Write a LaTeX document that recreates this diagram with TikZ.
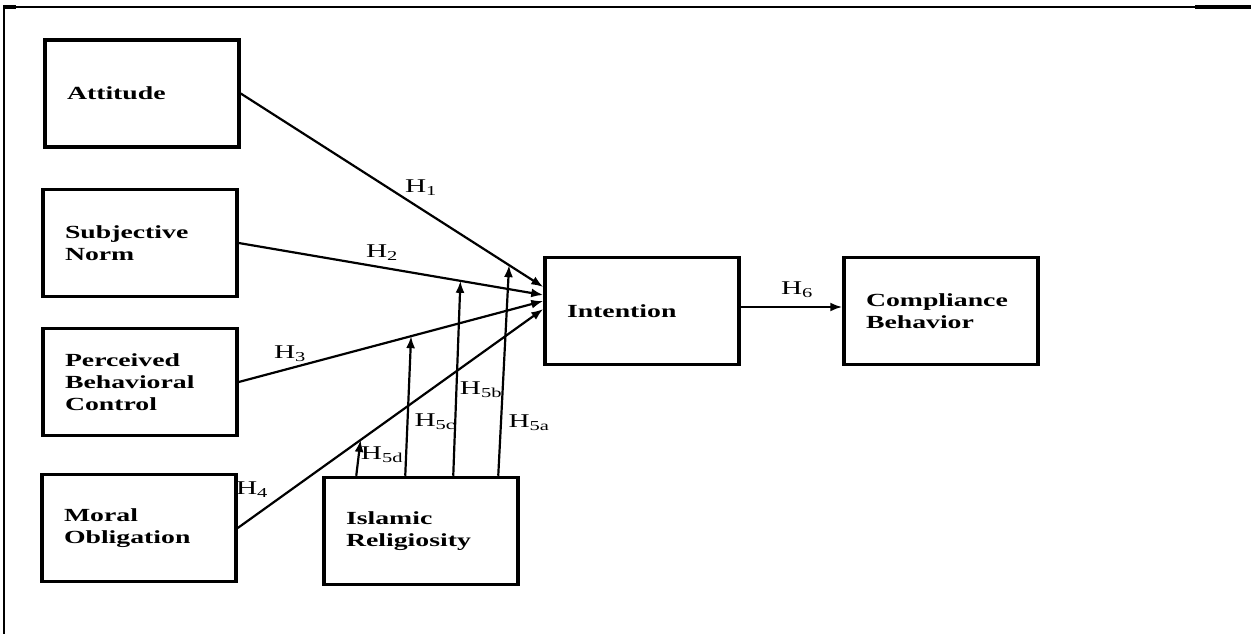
\documentclass[tikz,border=0pt]{standalone}
\usepackage{fontspec}
\setmainfont{Liberation Serif}[FakeStretch=1.5]
\usetikzlibrary{arrows.meta,calc}

\tikzset{
  construct/.style={draw,line width=3.5pt,minimum height=107pt,text width=150pt,
    inner xsep=22pt,align=left,font=\bfseries\fontsize{18.5}{22}\selectfont},
  hyp/.style={-{Latex[length=12pt,width=9pt]},line width=2.2pt},
  hlabel/.style={inner sep=0pt,font=\fontsize{19.5}{20}\selectfont}
}

\begin{document}
\begin{tikzpicture}[x=1pt,y=-1pt]
\useasboundingbox (0,0) rectangle (1251,634);
% page frame
\draw[line width=2pt] (4,634) -- (4,7) -- (1251,7);
\draw[line width=4pt] (3,7) -- (16,7);
\draw[line width=4pt] (1195,7) -- (1251,7);

\node[construct] (att) at (142,93.5) {Attitude};
\node[construct] (sn) at (140,243) {Subjective\\Norm};
\node[construct] (pbc) at (140,382) {Perceived\\Behavioral\\Control};
\node[construct] (mo) at (139,528) {Moral\\Obligation};
\node[construct] (rel) at (421,531) {Islamic\\Religiosity};
\node[construct] (int) at (642,311) {Intention};
\node[construct] (cb) at (941,311) {Compliance\\Behavior};

% end points on the Intention box
\coordinate (t1) at ($(int.west)+(0,-24)$);
\coordinate (t2) at ($(int.west)+(0,-16)$);
\coordinate (t3) at ($(int.west)+(0,-10)$);
\coordinate (t4) at ($(int.west)+(0,-2)$);
\draw[hyp] (att.east) -- (t1);
\draw[hyp] (sn.east) -- (t2);
\draw[hyp] (pbc.east) -- (t3);
\draw[hyp] (mo.east) -- (t4);

% moderating paths
\coordinate (m1) at ($(att.east)!0.887!(t1)$);
\coordinate (m2) at ($(sn.east)!0.728!(t2)$);
\coordinate (m3) at ($(pbc.east)!0.566!(t3)$);
\coordinate (m4) at ($(mo.east)!0.402!(t4)$);
\draw[hyp] ($(rel.north west)+(176,0)$) -- (m1);
\draw[hyp] ($(rel.north west)+(131,0)$) -- (m2);
\draw[hyp] ($(rel.north west)+(83,0)$) -- (m3);
\draw[hyp] ($(rel.north west)+(34,0)$) -- (m4);

\draw[hyp] ($(int.east)+(0,-4)$) -- ($(cb.west)+(0,-4)$);

\node[hlabel] (h1) at (421,188) {H\textsubscript{1}};
\node[hlabel] (h2) at (382,253) {H\textsubscript{2}};
\node[hlabel] (h3) at (290,354) {H\textsubscript{3}};
\node[hlabel] (h4) at (252,490) {H\textsubscript{4}};
\node[hlabel] (h5a) at (529,423) {H\textsubscript{5a}};
\node[hlabel] (h5b) at (481,390) {H\textsubscript{5b}};
\node[hlabel] (h5c) at (435,422) {H\textsubscript{5c}};
\node[hlabel] (h5d) at (382,455) {H\textsubscript{5d}};
\node[hlabel] (h6) at (797,290) {H\textsubscript{6}};
\end{tikzpicture}
\end{document}
